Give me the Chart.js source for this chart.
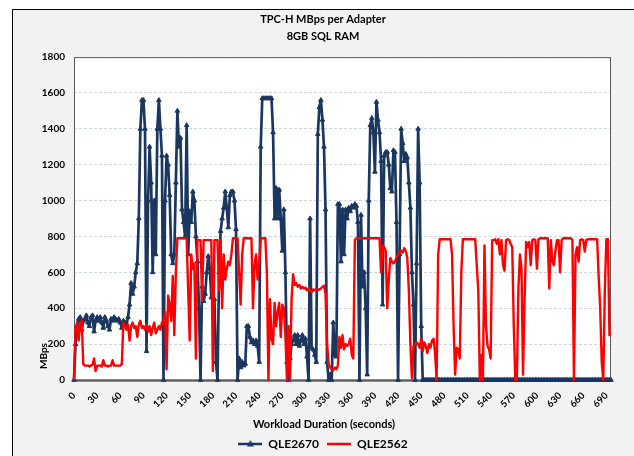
<!DOCTYPE html>
<html><head><meta charset="utf-8">
<script src="https://cdn.jsdelivr.net/npm/chart.js@4"></script>
<style>html,body{margin:0;padding:0;background:#fff;}canvas{display:block;}</style>
</head><body>
<canvas id="c" width="634" height="456" style="width:634px;height:456px"></canvas>
<script>
const titleLines = ['TPC-H MBps per Adapter', '8GB SQL RAM'];
const xTitle = 'Workload Duration (seconds)';
const yTitle = 'MBps';
const seriesNames = ['QLE2670', 'QLE2562'];
const stepSeconds = 2;
const xTickStep = 30;
const xMax = 696;
const yMin = 0, yMax = 1800, yStep = 200;

// QLE2670 MBps, one value every 2 s (0..696 s)
const qle2670 = [
  0,200,300,340,350,280,330,340,360,320,
  300,350,360,270,330,350,330,350,320,290,
  350,330,300,280,340,330,350,340,330,340,
  320,290,330,320,310,350,420,540,480,520,
  600,650,900,1400,1560,1560,1400,160,1000,1300,
  1100,600,1000,700,1400,1560,1400,1250,0,1000,
  1250,1200,1030,700,650,700,1100,1500,1300,1350,
  950,880,800,1420,700,940,880,1050,1000,800,
  660,400,0,520,440,480,600,690,620,460,
  460,450,100,0,600,830,900,960,1050,960,
  850,1030,1050,1050,1000,840,0,120,70,100,
  80,90,300,300,240,210,220,200,220,190,
  100,1300,1570,1570,1570,1570,1570,1570,1570,1380,
  900,1070,900,1060,900,720,950,600,100,0,
  120,200,220,250,200,250,190,220,250,200,
  230,130,0,900,180,170,140,100,1370,1520,
  1560,1450,1300,950,100,0,30,0,320,140,
  130,980,980,660,950,700,950,900,960,940,
  970,960,980,970,880,0,920,520,600,400,
  30,1000,1420,1460,1380,1160,1550,1450,1380,1220,
  420,1250,1270,1270,1200,1070,1050,1280,1270,880,
  0,700,1400,1320,1220,1260,1240,1100,960,600,
  420,0,650,1400,1100,300,0,0,0,0,
  0,0,0,0,0,0,0,0,0,0,0,0,0,0,0,0,0,0,0,0,
  0,0,0,0,0,0,0,0,0,0,0,0,0,0,0,0,0,0,0,0,
  0,0,0,0,0,0,0,0,0,0,0,0,0,0,0,0,0,0,0,0,
  0,0,0,0,0,0,0,0,0,0,0,0,0,0,0,0,0,0,0,0,
  0,0,0,0,0,0,0,0,0,0,0,0,0,0,0,0,0,0,0,0,
  0,0,0,0,0,0,0,0,0,0,0,0,0,0,0,0,0,0,0
];

// QLE2562 MBps, one value every 2 s (0..696 s)
const qle2562 = [
  0,290,320,220,310,330,90,80,80,80,
  75,80,85,120,50,80,80,80,75,110,
  80,80,75,80,80,110,80,80,80,80,
  80,90,320,300,280,310,220,300,320,290,
  300,240,310,330,290,300,280,310,270,300,
  250,290,320,260,280,300,280,320,330,380,
  60,470,420,330,580,250,600,790,790,790,
  790,790,790,790,500,220,700,620,650,120,
  780,780,780,440,780,780,780,780,780,780,
  50,780,780,780,500,780,400,700,560,620,
  660,640,700,790,790,790,790,600,420,700,
  790,790,790,790,790,790,400,640,700,560,
  650,790,790,790,790,600,0,450,230,200,
  430,300,380,430,240,420,400,250,0,300,
  0,450,590,530,540,520,530,510,520,510,
  515,500,510,500,490,505,500,505,500,505,
  510,520,525,480,200,90,70,60,55,70,
  60,80,240,180,250,170,200,190,200,230,
  140,120,780,790,790,790,790,790,790,790,
  790,790,790,790,790,790,790,790,790,600,
  750,740,720,400,560,680,660,650,660,680,
  700,710,720,710,735,720,680,500,200,10,
  190,200,210,200,180,230,160,210,190,150,
  200,180,220,230,150,0,700,785,785,785,
  785,785,785,785,785,700,300,30,180,170,
  120,600,785,785,785,785,785,785,785,785,
  785,640,500,0,140,0,750,300,190,170,
  120,780,780,785,760,785,700,780,640,610,
  780,785,780,760,740,300,0,0,510,700,
  620,30,450,770,740,770,640,780,785,780,
  620,785,790,790,790,790,790,790,510,780,
  660,640,720,780,780,600,780,790,790,790,
  790,790,790,780,0,700,740,660,780,785,
  780,716,780,785,785,785,785,785,785,785,
  580,400,100,0,500,785,785,250,250
];

const seconds = qle2670.map((_, i) => i * stepSeconds);

const FONT = 'Lato, "Liberation Sans", sans-serif';
const NAVY = '#1b365f';
const RED = '#ff0000';

function legendGlyph(color, marker) {
  const c = document.createElement('canvas');
  c.width = 24; c.height = 10;
  const g = c.getContext('2d');
  g.strokeStyle = color; g.lineWidth = 2.5;
  g.beginPath(); g.moveTo(0, 5); g.lineTo(24, 5); g.stroke();
  if (marker) {
    g.fillStyle = color;
    g.beginPath(); g.moveTo(12, 1); g.lineTo(15.5, 7.5); g.lineTo(8.5, 7.5); g.closePath(); g.fill();
  }
  return c;
}
const glyphs = [legendGlyph(NAVY, true), legendGlyph(RED, false)];

const framePlugin = {
  id: 'frame',
  afterLayout(chart) {
    if (chart.legend) { chart.legend.top += 4; chart.legend.bottom += 4; }
  },
  beforeDraw(chart) {
    const {ctx, chartArea: a} = chart;
    ctx.save();
    ctx.fillStyle = '#fff'; ctx.fillRect(0, 0, chart.width, chart.height);
    ctx.fillStyle = '#f2f2f2'; ctx.fillRect(12, 9, chart.width, chart.height);
    ctx.strokeStyle = '#000'; ctx.lineWidth = 1;
    ctx.beginPath(); ctx.moveTo(12.5, chart.height); ctx.lineTo(12.5, 9.5); ctx.lineTo(chart.width, 9.5); ctx.stroke();
    ctx.fillStyle = '#fff'; ctx.fillRect(a.left, a.top, a.right - a.left, a.bottom - a.top);
    ctx.restore();
  },
  beforeDatasetsDraw(chart) {
    const {ctx, chartArea: a} = chart;
    ctx.save();
    ctx.strokeStyle = '#5a5a5a'; ctx.lineWidth = 1;
    ctx.strokeRect(a.left + 0.5, a.top + 0.5, a.right - a.left - 1, a.bottom - a.top);
    ctx.restore();
  },
  afterDraw(chart) {
    const {ctx} = chart;
    ctx.save();
    ctx.fillStyle = '#000';
    ctx.textAlign = 'center'; ctx.textBaseline = 'middle';
    ctx.font = 'bold 11px ' + FONT;
    ctx.fillText(xTitle, 324, 424);
    ctx.translate(44, 356); ctx.rotate(-Math.PI / 2);
    ctx.font = 'bold 10px ' + FONT;
    ctx.fillText(yTitle, 0, 0);
    ctx.restore();
  }
};

new Chart(document.getElementById('c'), {
  type: 'line',
  data: {
    datasets: [
      {
        label: seriesNames[0],
        data: seconds.map((s, i) => ({x: s, y: qle2670[i]})),
        borderColor: NAVY, backgroundColor: NAVY, borderWidth: 2.7,
        pointStyle: 'triangle', pointRadius: 2.6, pointBorderWidth: 1,
        pointBackgroundColor: NAVY, pointBorderColor: NAVY,
        borderJoinStyle: 'round', order: 1, clip: 5
      },
      {
        label: seriesNames[1],
        data: seconds.map((s, i) => ({x: s, y: qle2562[i]})),
        borderColor: RED, backgroundColor: RED, borderWidth: 2.4,
        pointRadius: 0, borderJoinStyle: 'round', order: 0, clip: 5
      }
    ]
  },
  options: {
    responsive: false, animation: false, devicePixelRatio: 1,
    layout: {padding: {left: 12, right: 0, top: 0, bottom: 0}},
    elements: {line: {tension: 0}},
    scales: {
      x: {
        type: 'linear', min: 0, max: xMax,
        ticks: {stepSize: xTickStep, includeBounds: false, autoSkip: false, minRotation: 45, maxRotation: 45,
                font: {size: 9.5, weight: 'bold', family: FONT}, color: '#000', padding: 2,
                callback: v => String(v)},
        grid: {display: false},
        border: {display: true, color: '#8c8c8c', width: 3},
        afterFit(s) { s.height = 46; }
      },
      y: {
        min: yMin, max: yMax,
        ticks: {stepSize: yStep, font: {size: 10, weight: 'bold', family: FONT}, color: '#000', padding: 9,
                callback: v => String(v)},
        grid: {color: '#cdd6e2', lineWidth: 1, drawTicks: false},
        border: {display: false, dash: [3, 2]},
        afterFit(s) { s.width = 62; }
      },
      y2: {
        position: 'right', display: true,
        grid: {display: false}, ticks: {display: false}, border: {display: false},
        afterFit(s) { s.width = 23; }
      }
    },
    plugins: {
      title: {
        display: true, text: titleLines, color: '#000',
        font: {size: 11, weight: 'bold', family: FONT, lineHeight: 1.55},
        padding: {top: 11, bottom: 12}
      },
      legend: {
        position: 'bottom',
        labels: {
          usePointStyle: true, pointStyleWidth: 24, color: '#000', padding: 8,
          font: {size: 12, weight: 'bold', family: FONT},
          generateLabels(chart) {
            const items = Chart.defaults.plugins.legend.labels.generateLabels(chart);
            items.forEach(it => { it.pointStyle = glyphs[it.datasetIndex]; });
            return items;
          },
          sort: (a, b) => a.datasetIndex - b.datasetIndex
        }
      },
      tooltip: {enabled: false}
    }
  },
  plugins: [framePlugin]
});
</script>
</body></html>
